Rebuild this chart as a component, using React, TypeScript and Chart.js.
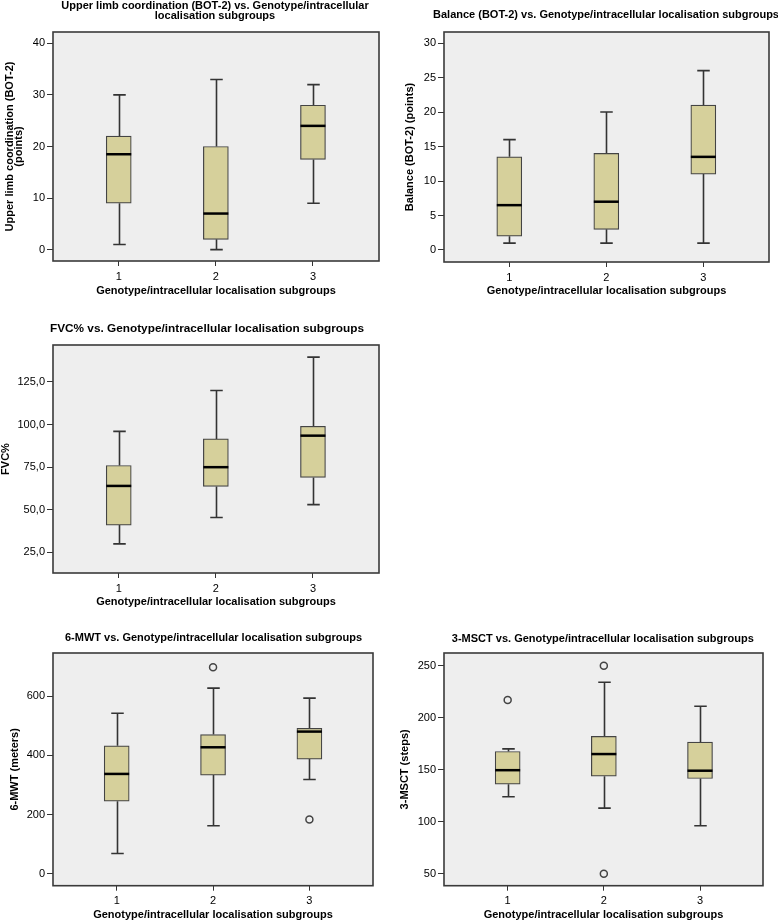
import React, { useEffect, useRef } from "react";
import { Chart, registerables } from "chart.js";

Chart.register(...registerables);

// ---------- data ----------
const groups = ["1", "2", "3"];
const groupPositions = [1, 2, 3];
const xAxisTitle = "Genotype/intracellular localisation subgroups";

// Upper limb coordination (BOT-2)
const upperMin = [1, 0, 9];
const upperQ1 = [9, 2, 17.5];
const upperMedian = [18.5, 7, 24];
const upperQ3 = [22, 20, 28];
const upperMax = [30, 33, 32];
const upperOutliers: { g: number; v: number }[] = [];
const upperTicks = [0, 10, 20, 30, 40];

// Balance (BOT-2)
const balanceMin = [1, 1, 1];
const balanceQ1 = [2, 3, 11];
const balanceMedian = [6.5, 7, 13.5];
const balanceQ3 = [13.5, 14, 21];
const balanceMax = [16, 20, 26];
const balanceOutliers: { g: number; v: number }[] = [];
const balanceTicks = [0, 5, 10, 15, 20, 25, 30];

// FVC%
const fvcMin = [30, 45.5, 53];
const fvcQ1 = [41, 63.7, 69];
const fvcMedian = [64, 75, 93.5];
const fvcQ3 = [76, 91.6, 99];
const fvcMax = [96, 120, 139.6];
const fvcOutliers: { g: number; v: number }[] = [];
const fvcTicks = [25, 50, 75, 100, 125];

// 6-MWT
const mwtMin = [68, 162, 318];
const mwtQ1 = [245, 333, 387];
const mwtMedian = [337, 427, 480];
const mwtQ3 = [432, 470, 491];
const mwtMax = [542, 627, 593];
const mwtOutliers = [
  { g: 2, v: 697 },
  { g: 3, v: 183 },
];
const mwtTicks = [0, 200, 400, 600];

// 3-MSCT
const msctMin = [124, 113, 96];
const msctQ1 = [136, 143.7, 141.5];
const msctMedian = [149.5, 165, 149];
const msctQ3 = [167.5, 182, 176.5];
const msctMax = [170, 234, 211];
const msctOutliers = [
  { g: 1, v: 217 },
  { g: 2, v: 250 },
  { g: 2, v: 50 },
];
const msctTicks = [50, 100, 150, 200, 250];

// ---------- styling ----------
const FONT = "'Liberation Sans', Arial, Helvetica, sans-serif";
const BOX_FILL = "#d6d09b";
const LINE = "#333333";
const PLOT_BG = "#eeeeee";

type Panel = {
  left: number;
  top: number;
  width: number;
  height: number;
  title: string[];
  titleY: number[];
  titleSize: number;
  titleDx: number;
  plotTop: number;
  yTitle: string | string[];
  yTitlePad: number;
  xTitlePad: number;
  yWidth: number;
  xHeight: number;
  rightPad: number;
  yMin: number;
  yMax: number;
  xMin: number;
  xMax: number;
  ticks: number[];
  fmt: (v: number) => string;
  mins: number[];
  q1: number[];
  med: number[];
  q3: number[];
  maxs: number[];
  outliers: { g: number; v: number }[];
};

const intFmt = (v: number) => String(v);
const commaFmt = (v: number) => v.toFixed(1).replace(".", ",");

const panels: Panel[] = [
  {
    left: 0, top: 0, width: 390, height: 305,
    title: ["Upper limb coordination (BOT-2) vs. Genotype/intracellular", "localisation subgroups"],
    titleY: [5.8, 16.2], titleSize: 11, titleDx: -1,
    plotTop: 32,
    yTitle: ["Upper limb coordination (BOT-2)", "(points)"],
    yTitlePad: 4.8,
    xTitlePad: 7.4,
    yWidth: 53, xHeight: 44, rightPad: 11,
    yMin: -2.2, yMax: 42.2, xMin: 0.323, xMax: 3.68,
    ticks: upperTicks, fmt: intFmt,
    mins: upperMin, q1: upperQ1, med: upperMedian, q3: upperQ3, maxs: upperMax, outliers: upperOutliers,
  },
  {
    left: 390, top: 0, width: 388, height: 305,
    title: ["Balance (BOT-2) vs. Genotype/intracellular localisation subgroups"],
    titleY: [15.2], titleSize: 11, titleDx: -0.5,
    plotTop: 32,
    yTitle: "Balance (BOT-2) (points)",
    yTitlePad: 15.3,
    xTitlePad: 7.4,
    yWidth: 54, xHeight: 43, rightPad: 9,
    yMin: -1.74, yMax: 31.6, xMin: 0.327, xMax: 3.677,
    ticks: balanceTicks, fmt: intFmt,
    mins: balanceMin, q1: balanceQ1, med: balanceMedian, q3: balanceQ3, maxs: balanceMax, outliers: balanceOutliers,
  },
  {
    left: 0, top: 310, width: 390, height: 305,
    title: ["FVC% vs. Genotype/intracellular localisation subgroups"],
    titleY: [18.3], titleSize: 11.8, titleDx: -9,
    plotTop: 35,
    yTitle: "FVC%",
    yTitlePad: 1,
    xTitlePad: 6.7,
    yWidth: 53, xHeight: 42, rightPad: 11,
    yMin: 12.9, yMax: 146.7, xMin: 0.323, xMax: 3.68,
    ticks: fvcTicks, fmt: commaFmt,
    mins: fvcMin, q1: fvcQ1, med: fvcMedian, q3: fvcQ3, maxs: fvcMax, outliers: fvcOutliers,
  },
  {
    left: 0, top: 620, width: 390, height: 303,
    title: ["6-MWT vs. Genotype/intracellular localisation subgroups"],
    titleY: [18.3], titleSize: 11, titleDx: 0.5,
    plotTop: 33,
    yTitle: "6-MWT (meters)",
    yTitlePad: 10.3,
    xTitlePad: 1.4,
    yWidth: 53, xHeight: 37.3, rightPad: 17,
    yMin: -40.6, yMax: 745.5, xMin: 0.339, xMax: 3.66,
    ticks: mwtTicks, fmt: intFmt,
    mins: mwtMin, q1: mwtQ1, med: mwtMedian, q3: mwtQ3, maxs: mwtMax, outliers: mwtOutliers,
  },
  {
    left: 390, top: 620, width: 388, height: 303,
    title: ["3-MSCT vs. Genotype/intracellular localisation subgroups"],
    titleY: [18.5], titleSize: 11, titleDx: -0.7,
    plotTop: 33,
    yTitle: "3-MSCT (steps)",
    yTitlePad: 10.3,
    xTitlePad: 1.4,
    yWidth: 54, xHeight: 37.3, rightPad: 15,
    yMin: 38.4, yMax: 262.2, xMin: 0.338, xMax: 3.655,
    ticks: msctTicks, fmt: intFmt,
    mins: msctMin, q1: msctQ1, med: msctMedian, q3: msctQ3, maxs: msctMax, outliers: msctOutliers,
  },
];

const BOX_W = 25;
const CAP_W = 12.5;

const boxPlugin = {
  id: "boxDecor",
  beforeDraw(chart: any) {
    const { ctx, chartArea: a } = chart;
    ctx.save();
    ctx.fillStyle = PLOT_BG;
    ctx.fillRect(a.left, a.top, a.right - a.left, a.bottom - a.top);
    ctx.restore();
  },
  beforeDatasetsDraw(chart: any) {
    const p: Panel = chart.options.plugins.boxDecor.panel;
    const { ctx } = chart;
    const xs = chart.scales.x;
    const ys = chart.scales.y;
    ctx.save();
    ctx.strokeStyle = LINE;
    ctx.lineWidth = 1.6;
    groupPositions.forEach((g, i) => {
      const x = Math.round(xs.getPixelForValue(g)) + 0.5;
      const yMin = ys.getPixelForValue(p.mins[i]);
      const yMax = ys.getPixelForValue(p.maxs[i]);
      const yQ1 = ys.getPixelForValue(p.q1[i]);
      const yQ3 = ys.getPixelForValue(p.q3[i]);
      ctx.beginPath();
      ctx.moveTo(x, yMax);
      ctx.lineTo(x, yQ3);
      ctx.moveTo(x, yQ1);
      ctx.lineTo(x, yMin);
      ctx.moveTo(x - CAP_W / 2, yMax);
      ctx.lineTo(x + CAP_W / 2, yMax);
      ctx.moveTo(x - CAP_W / 2, yMin);
      ctx.lineTo(x + CAP_W / 2, yMin);
      ctx.stroke();
    });
    ctx.restore();
  },
  afterDatasetsDraw(chart: any) {
    const p: Panel = chart.options.plugins.boxDecor.panel;
    const { ctx, chartArea: a } = chart;
    const xs = chart.scales.x;
    const ys = chart.scales.y;
    ctx.save();
    ctx.strokeStyle = "#000";
    ctx.lineWidth = 2.5;
    groupPositions.forEach((g, i) => {
      const x = xs.getPixelForValue(g);
      const y = ys.getPixelForValue(p.med[i]);
      ctx.beginPath();
      ctx.moveTo(x - BOX_W / 2, y);
      ctx.lineTo(x + BOX_W / 2, y);
      ctx.stroke();
    });
    ctx.strokeStyle = "#3a3a3a";
    ctx.lineWidth = 1.6;
    ctx.strokeRect(a.left, a.top, a.right - a.left, a.bottom - a.top);
    ctx.restore();
  },
  afterDraw(chart: any) {
    // chart title, centred over the plot frame
    const p: Panel = chart.options.plugins.boxDecor.panel;
    const { ctx, chartArea: a } = chart;
    ctx.save();
    ctx.fillStyle = "#000";
    ctx.font = `bold ${p.titleSize}px ${FONT}`;
    ctx.textAlign = "center";
    ctx.textBaseline = "middle";
    const cx = (a.left + a.right) / 2 + p.titleDx;
    p.title.forEach((line, i) => ctx.fillText(line, cx, p.titleY[i]));
    ctx.restore();
  },
};

function BoxPanel({ p }: { p: Panel }) {
  const ref = useRef<HTMLCanvasElement | null>(null);
  useEffect(() => {
    if (!ref.current) return;
    const boxData = groupPositions.map((g, i) => ({ x: g, y: [p.q1[i], p.q3[i]] }));
    const outData = p.outliers.map((o) => ({ x: groupPositions[o.g - 1], y: o.v }));
    const chart = new Chart(ref.current, {
      type: "bar",
      data: {
        datasets: [
          {
            type: "bar",
            data: boxData as any,
            backgroundColor: BOX_FILL,
            borderColor: "#444444",
            borderWidth: 1.2,
            borderSkipped: false,
            barThickness: BOX_W,
          } as any,
          {
            type: "scatter",
            data: outData as any,
            pointStyle: "circle",
            pointRadius: 3.5,
            pointBackgroundColor: "rgba(0,0,0,0)",
            pointBorderColor: "#444444",
            pointBorderWidth: 1.5,
          } as any,
        ],
      },
      options: {
        animation: false,
        responsive: false,
        devicePixelRatio: 1,
        layout: { padding: { left: 0, right: p.rightPad, top: p.plotTop, bottom: 0 } },
        plugins: {
          legend: { display: false },
          tooltip: { enabled: false },
          title: { display: false },
          boxDecor: { panel: p },
        } as any,
        scales: {
          x: {
            type: "linear",
            min: p.xMin,
            max: p.xMax,
            offset: false,
            afterBuildTicks: (s: any) => {
              s.ticks = groupPositions.map((v) => ({ value: v }));
            },
            afterFit: (s: any) => {
              s.height = p.xHeight;
            },
            ticks: {
              color: "#000",
              font: { family: FONT, size: 11 },
              padding: 4,
              callback: (v: any) => groups[groupPositions.indexOf(Number(v))] ?? "",
            },
            grid: { display: true, offset: false, drawOnChartArea: false, drawTicks: true, tickLength: 5, color: LINE, lineWidth: 1 },
            border: { display: false },
            title: {
              display: true,
              text: xAxisTitle,
              color: "#000",
              font: { family: FONT, size: 11, weight: "bold", lineHeight: 1.2 },
              padding: { top: 0, bottom: p.xTitlePad },
            },
          },
          y: {
            type: "linear",
            min: p.yMin,
            max: p.yMax,
            afterBuildTicks: (s: any) => {
              s.ticks = p.ticks.map((v) => ({ value: v }));
            },
            afterFit: (s: any) => {
              s.width = p.yWidth;
            },
            ticks: {
              color: "#000",
              font: { family: FONT, size: 11 },
              padding: 2,
              callback: (v: any) => p.fmt(Number(v)),
            },
            grid: { display: true, drawOnChartArea: false, drawTicks: true, tickLength: 6, color: LINE, lineWidth: 1 },
            border: { display: false },
            title: {
              display: true,
              text: p.yTitle,
              color: "#000",
              font: { family: FONT, size: 11, weight: "bold", lineHeight: 0.85 },
              padding: { top: p.yTitlePad, bottom: 0 },
            },
          },
        },
      } as any,
      plugins: [boxPlugin],
    });
    return () => chart.destroy();
  }, [p]);
  return (
    <div style={{ position: "absolute", left: p.left, top: p.top, width: p.width, height: p.height }}>
      <canvas ref={ref} width={p.width} height={p.height} style={{ display: "block", width: p.width, height: p.height }} />
    </div>
  );
}

export default function App() {
  return (
    <div style={{ position: "absolute", left: 0, top: 0, width: 778, height: 923, background: "#fff" }}>
      {panels.map((p, i) => (
        <BoxPanel key={i} p={p} />
      ))}
    </div>
  );
}
